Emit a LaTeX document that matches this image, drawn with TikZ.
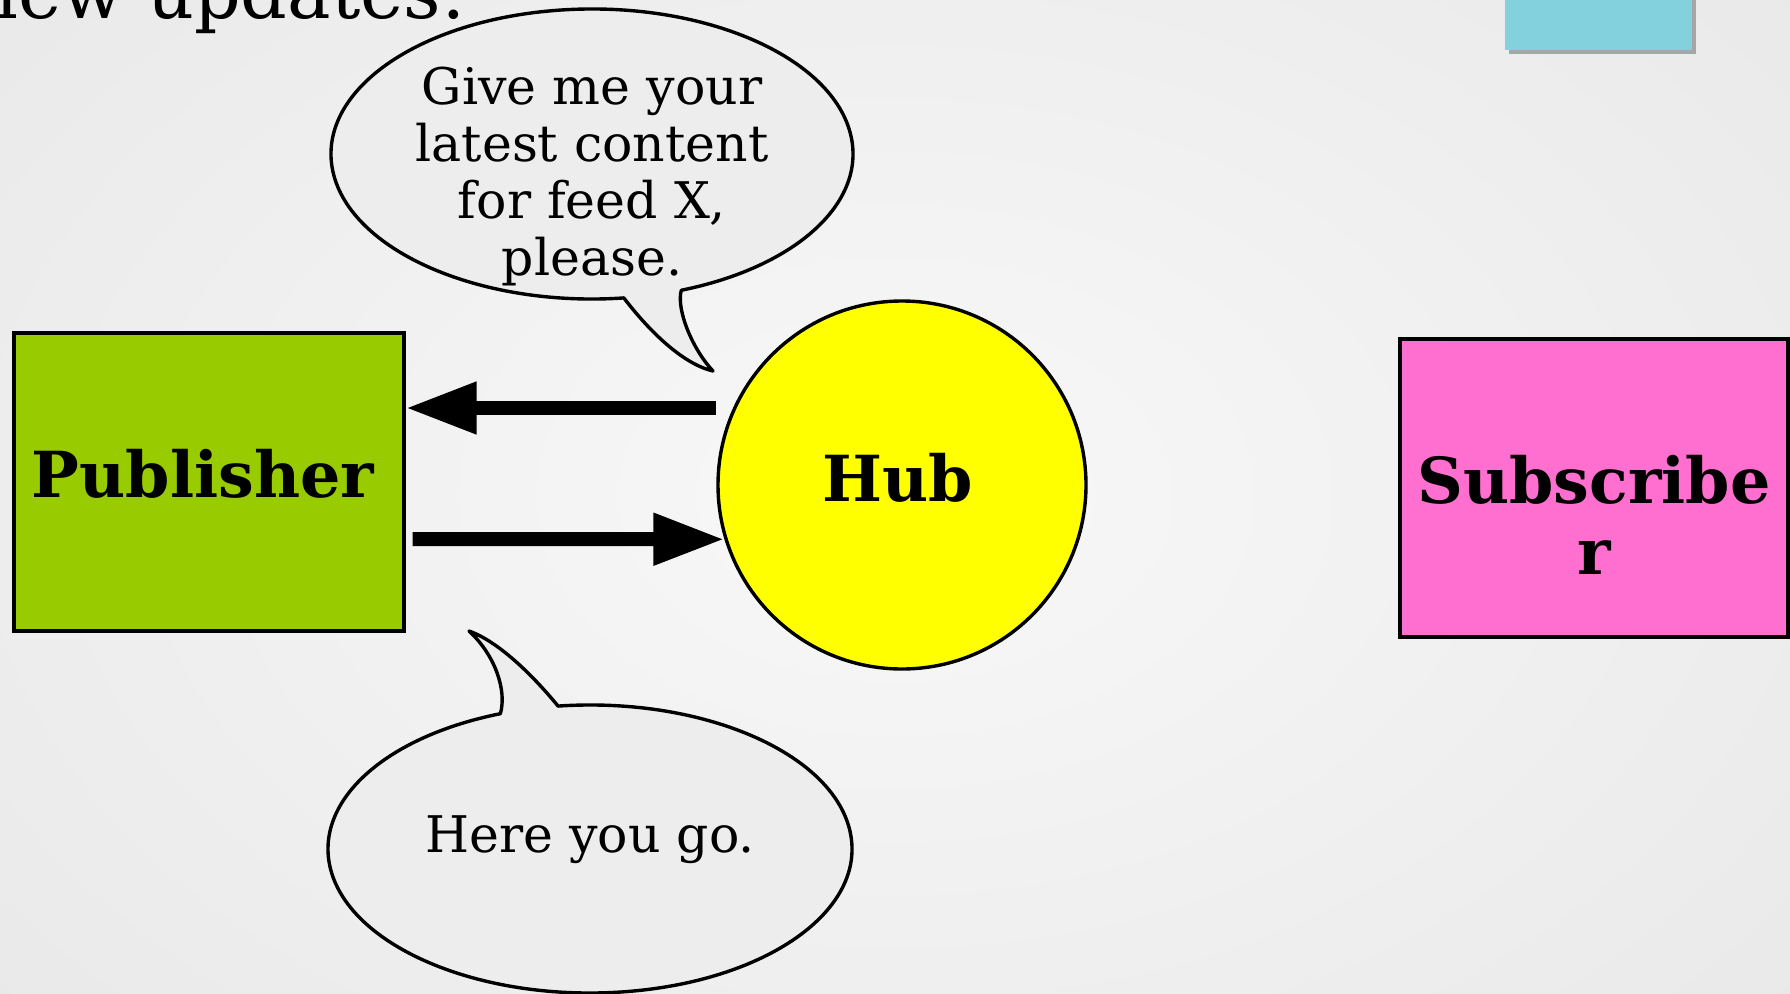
\documentclass[tikz,border=0pt]{standalone}
\usepackage{fontspec}
\setmainfont{DejaVu Serif}
\usetikzlibrary{arrows.meta,calc}
\definecolor{pubgreen}{HTML}{99CC00}
\definecolor{hubyellow}{HTML}{FFFF00}
\definecolor{subpink}{HTML}{FF6FCF}
\definecolor{cyanbox}{HTML}{84D1DE}
\definecolor{bubblefill}{HTML}{EDEDED}
\definecolor{bgin}{HTML}{F8F8F8}
\definecolor{bgout}{HTML}{E9E9E9}
\begin{document}
\begin{tikzpicture}[x=1pt,y=-1pt,
  boxnode/.style={draw=black,line width=3.4pt,rectangle,inner sep=0pt,align=center},
  boxtext/.style={inner sep=0pt,align=center,font=\fontsize{63.5}{71}\selectfont\bfseries},
  bubble/.style={draw=black,line width=3.4pt,fill=bubblefill,line join=round},
  btext/.style={align=center,inner sep=0pt,font=\fontsize{50.5}{57}\selectfont},
  bigarrow/.style={line width=14pt,-{Triangle[length=71pt,width=49pt]}}]
\useasboundingbox (0,0) rectangle (1790,993);
\shade[inner color=bgin,outer color=bgout] (-300,-300) rectangle (2090,1293);
% cyan box at the top
\fill[gray!70] (1509,-10) rectangle (1696,54);
\fill[cyanbox] (1505,-10) rectangle (1692,50);
% title fragment
\node[anchor=base east,inner sep=0pt,font=\fontsize{73}{78}\selectfont] (title) at (466,18) {new updates:};
% nodes
\node[boxnode,fill=pubgreen,minimum width=390,minimum height=298] (pub) at (209,482) {};
\node[boxtext] (publabel) at (203,474) {Publisher};
\node[boxnode,fill=hubyellow,circle,minimum size=368] (hub) at (902,485) {};
\node[boxtext] (hublabel) at (898,478) {Hub};
\node[boxnode,fill=subpink,minimum width=388,minimum height=298] (sub) at (1594,488) {};
\node[boxtext] (sublabel) at (1594,515) {Subscribe\\r};
% speech bubbles
\filldraw[bubble] (592,154) ++(83:261 and 145)
  arc[start angle=83,end angle=430,x radius=261,y radius=145]
  .. controls (676,310) and (693,350) .. (713,371)
  .. controls (683,364) and (650,332) .. cycle;
\filldraw[bubble] (590,849) ++(263:262 and 144)
  arc[start angle=263,end angle=610,x radius=262,y radius=144]
  .. controls (507,690) and (495,655) .. (469,631)
  .. controls (497,641) and (530,672) .. cycle;
\node[btext] (ask) at (592,177) {Give me your\\latest content\\for feed X,\\please.};
\node[btext] (reply) at (590,840) {Here you go.};
% arrows
\draw[bigarrow] (hub.west |- 0,408) -- (pub.east |- 0,408);
\draw[bigarrow] ([xshift=7pt]pub.east |- 0,539) -- (hub.197);
\end{tikzpicture}
\end{document}
